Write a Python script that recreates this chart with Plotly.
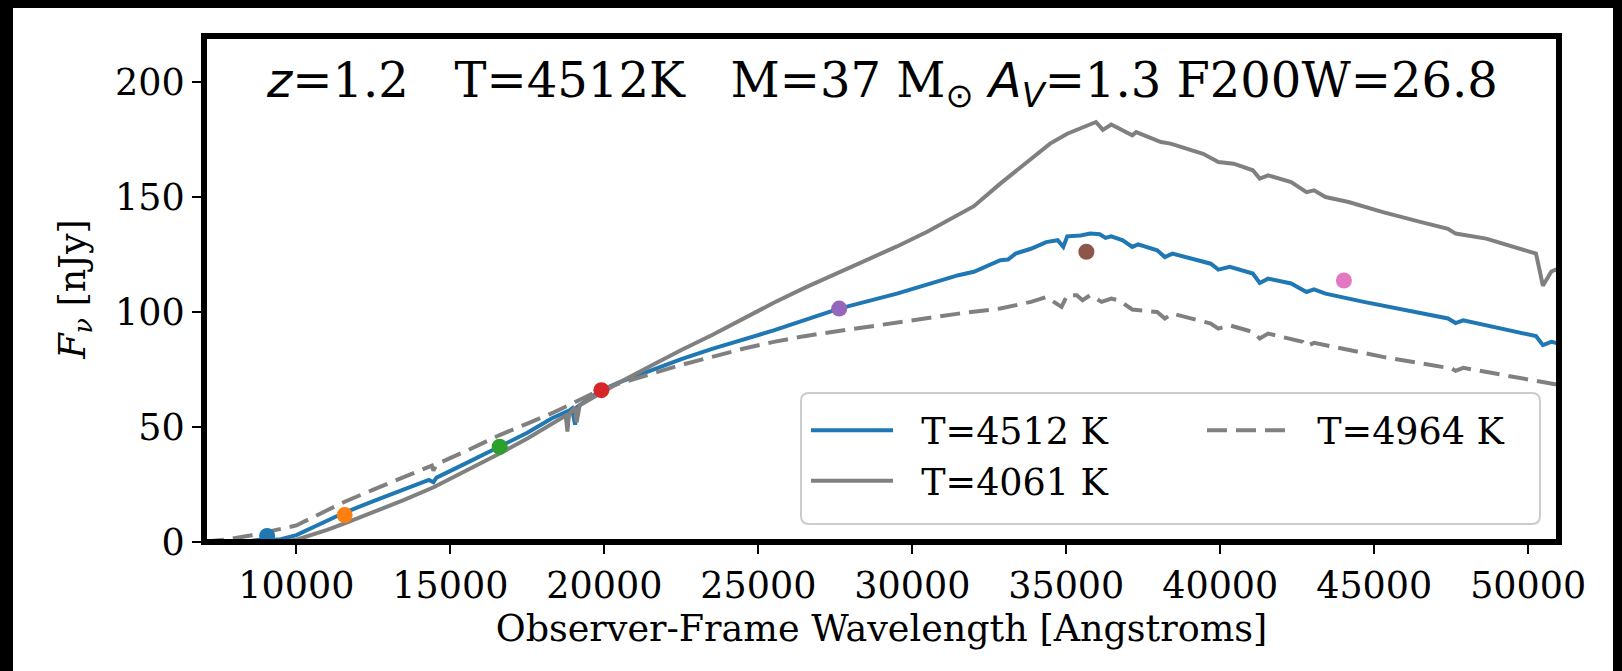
import plotly.graph_objects as go

# Model SEDs (observer-frame wavelength in Angstrom, flux density in nJy)
wave_4512 = [7000, 8500, 8900, 9050, 9250, 9500, 10000, 10500, 11000, 11568, 12500, 13500,
             14300, 14450, 14550, 15500, 16600, 17500, 18300, 18750, 18800, 18850, 18950,
             19050, 19100, 19500, 19900, 20500, 21500, 22500, 23500, 24500, 25500, 26500,
             27627, 28500, 29500, 30500, 31500, 32000, 32857, 33107, 33354, 33851, 34100,
             34348, 34721, 34903, 35032, 35468, 35776, 36088, 36273, 36461, 36834, 37143,
             37331, 37952, 38201, 38448, 39692, 39938, 40312, 41058, 41282, 41555, 42302,
             42799, 43045, 43419, 44662, 45903, 47396, 47643, 47890, 50253, 50477, 50750, 51000]
flux_4512 = [0.2, 0.4, 1.2, 2.2, 1.0, 1.2, 3.0, 6.0, 9.3, 12.8, 17.8, 22.8,
             27.0, 26.0, 28.0, 34.2, 41.4, 47.5, 53.8, 56.5, 50.0, 57.0, 58.0,
             51.0, 58.5, 62.5, 66.0, 69.5, 74.5, 79.5, 84.0, 88.0, 92.0, 96.5,
             101.5, 104.5, 108.0, 112.0, 116.0, 117.5, 122.5, 122.8, 125.4, 127.5, 129.0,
             130.4, 131.2, 128.3, 132.9, 133.3, 134.1, 133.8, 132.2, 132.9, 131.2, 128.3,
             129.4, 126.8, 123.9, 125.4, 121.0, 118.4, 119.6, 116.7, 112.6, 114.5, 112.4,
             108.7, 109.8, 108.0, 104.4, 101.1, 97.2, 95.2, 96.4, 89.5, 85.6, 87.0, 86.3]

wave_4061 = [7000, 9000, 9500, 10000, 10500, 11000, 11568, 12500, 13500, 14458, 15500, 16601,
             17500, 18300, 18750, 18800, 18850, 19050, 19100, 19200, 19900, 20500, 21500,
             22500, 23500, 24500, 25500, 26500, 27500, 28500, 29500, 30500, 31500, 32000,
             32857, 33477, 34100, 34474, 35032, 35964, 36188, 36461, 37143, 37269, 38075,
             38386, 39442, 39938, 40435, 41058, 41282, 41555, 42302, 42799, 43045, 43419,
             44166, 45283, 46526, 47396, 47643, 48636, 50253, 50477, 50750, 51000]
flux_4061 = [0.0, 0.0, 0.2, 1.0, 3.0, 5.3, 8.1, 13.0, 18.3, 23.8, 30.8, 38.5,
             45.0, 51.5, 55.0, 48.0, 55.5, 58.5, 52.0, 59.5, 65.0, 69.5, 76.5,
             83.5, 90.0, 97.0, 104.0, 110.5, 116.5, 122.5, 128.5, 135.0, 142.5, 146.0,
             155.8, 162.3, 168.8, 173.2, 177.5, 182.6, 179.2, 181.5, 176.8, 178.2, 173.9,
             173.2, 168.8, 165.2, 164.5, 161.6, 158.0, 159.4, 156.5, 152.1, 152.9, 150.0,
             147.8, 143.4, 139.1, 136.2, 134.1, 131.9, 125.4, 111.4, 117.6, 119.0]

wave_4964 = [7000, 7800, 8500, 9050, 10000, 11000, 11568, 12500, 13500, 14400, 14450, 14550,
             15500, 16600, 17500, 18300, 19000, 19900, 20500, 21500, 22500, 23500, 24500,
             25500, 26500, 27500, 28500, 29500, 30500, 31500, 32857, 33851, 34348, 34845,
             35032, 35341, 35529, 35776, 36149, 36461, 36708, 37143, 37952, 38201, 38448,
             39692, 39938, 40312, 41058, 41282, 41555, 42675, 42799, 43045, 45283, 47520,
             47643, 47890, 51000]
flux_4964 = [0.1, 1.2, 2.8, 4.4, 7.2, 13.8, 17.5, 22.8, 28.2, 33.2, 31.0, 33.8,
             39.5, 46.5, 51.5, 56.0, 60.5, 66.3, 69.0, 73.0, 77.0, 80.5, 84.0,
             87.0, 89.5, 91.5, 93.5, 95.5, 97.5, 99.3, 101.5, 104.4, 106.5, 102.2,
             107.3, 107.3, 105.1, 107.3, 104.4, 105.8, 105.1, 101.1, 100.0, 97.2, 99.3,
             95.0, 92.8, 94.2, 91.3, 88.5, 90.6, 87.0, 85.1, 86.6, 80.5, 75.4,
             74.4, 75.7, 68.3]

# Synthetic photometry points
phot_wave = [9049, 11568, 16601, 19903, 27627, 35653, 44016]
phot_flux = [2.6, 11.7, 41.4, 66.0, 101.5, 126.2, 113.7]
phot_color = ["#1f77b4", "#ff7f0e", "#2ca02c", "#d62728", "#9467bd", "#8c564b", "#e377c2"]

x_ticks = [10000, 15000, 20000, 25000, 30000, 35000, 40000, 45000, 50000]
y_ticks = [0, 50, 100, 150, 200]

SERIF = "DejaVu Serif"
FS = 36.5
W, H = 1622, 671
ML, MR, MT, MB = 204, 63, 36, 129
PW, PH = W - ML - MR, H - MT - MB
GAP = "\u00a0\u00a0"  # spacing between legend line sample and label


def px(X):
    return (X - ML) / PW


def py(Y):
    return (H - MB - Y) / PH


fig = go.Figure()

fig.add_trace(go.Scatter(x=wave_4512, y=flux_4512, mode="lines", name=GAP + "T=4512 K",
                         line=dict(color="#1f77b4", width=4), legend="legend"))
fig.add_trace(go.Scatter(x=wave_4061, y=flux_4061, mode="lines", name=GAP + "T=4061 K",
                         line=dict(color="#808080", width=4), legend="legend"))
fig.add_trace(go.Scatter(x=wave_4964, y=flux_4964, mode="lines", name=GAP + "T=4964 K",
                         line=dict(color="#808080", width=4, dash="20px,9px"), legend="legend2"))
fig.add_trace(go.Scatter(x=phot_wave, y=phot_flux, mode="markers", showlegend=False,
                         marker=dict(color=phot_color, size=16, line=dict(width=0))))

shapes = [
    # page frame
    dict(type="rect", xref="paper", yref="paper", layer="below",
         x0=px(13), x1=px(1613), y0=py(700), y1=py(8),
         fillcolor="white", line=dict(width=0)),
]

# rounded legend frame
lx0, lx1, ly0, ly1, r = 801, 1540, 393, 524, 8
path = (f"M{px(lx0 + r)},{py(ly0)} L{px(lx1 - r)},{py(ly0)} "
        f"Q{px(lx1)},{py(ly0)} {px(lx1)},{py(ly0 + r)} L{px(lx1)},{py(ly1 - r)} "
        f"Q{px(lx1)},{py(ly1)} {px(lx1 - r)},{py(ly1)} L{px(lx0 + r)},{py(ly1)} "
        f"Q{px(lx0)},{py(ly1)} {px(lx0)},{py(ly1 - r)} L{px(lx0)},{py(ly0 + r)} "
        f"Q{px(lx0)},{py(ly0)} {px(lx0 + r)},{py(ly0)} Z")
shapes.append(dict(type="path", xref="paper", yref="paper", layer="above", path=path,
                   fillcolor="rgba(255,255,255,0.8)", line=dict(color="#cccccc", width=2)))
# axes box
shapes.append(dict(type="rect", xref="paper", yref="paper", layer="above",
                   x0=0, x1=1, y0=0, y1=1, line=dict(color="black", width=6)))

title = ("<span style='font-family:DejaVu Sans'><i>z</i></span>=1.2\u00a0\u00a0\u00a0T=4512K"
         "\u00a0\u00a0\u00a0M=37 M<sub><span style='font-family:DejaVu Sans'>\u2299</span></sub> "
         "<span style='font-family:DejaVu Sans'><i>A</i><sub><i>V</i></sub></span>=1.3 F200W=26.8")

fig.update_layout(
    width=W, height=H,
    margin=dict(l=ML, r=MR, t=MT, b=MB, pad=0),
    paper_bgcolor="black", plot_bgcolor="white",
    font=dict(family=SERIF, size=FS, color="black"),
    shapes=shapes,
    annotations=[dict(text=title, xref="paper", yref="paper", x=0.5, y=py(83),
                      xanchor="center", yanchor="middle", showarrow=False,
                      font=dict(family=SERIF, size=48, color="black"))],
    legend=dict(x=px(806), y=py(400), xanchor="left", yanchor="top",
                bgcolor="rgba(0,0,0,0)", borderwidth=0, itemwidth=82,
                font=dict(family=SERIF, size=FS, color="black")),
    legend2=dict(x=px(1202), y=py(400), xanchor="left", yanchor="top",
                 bgcolor="rgba(0,0,0,0)", borderwidth=0, itemwidth=82,
                 font=dict(family=SERIF, size=FS, color="black")),
    xaxis=dict(range=[7000, 51000], tickvals=x_ticks, ticktext=[str(v) for v in x_ticks],
               ticks="outside", ticklen=11, tickwidth=2, tickcolor="black",
               showline=False, showgrid=False, zeroline=False,
               tickfont=dict(family=SERIF, size=FS, color="black"),
               title=dict(text="Observer-Frame Wavelength [Angstroms]", standoff=8,
                          font=dict(family=SERIF, size=FS, color="black"))),
    yaxis=dict(range=[0, 220], tickvals=y_ticks, ticktext=[str(v) for v in y_ticks],
               ticks="outside", ticklen=11, tickwidth=2, tickcolor="black",
               showline=False, showgrid=False, zeroline=False,
               tickfont=dict(family=SERIF, size=FS, color="black"),
               title=dict(text="<i>F</i><sub><i>\u03bd</i></sub> [nJy]", standoff=18,
                          font=dict(family=SERIF, size=FS, color="black"))),
)

fig.write_html("out.html")
